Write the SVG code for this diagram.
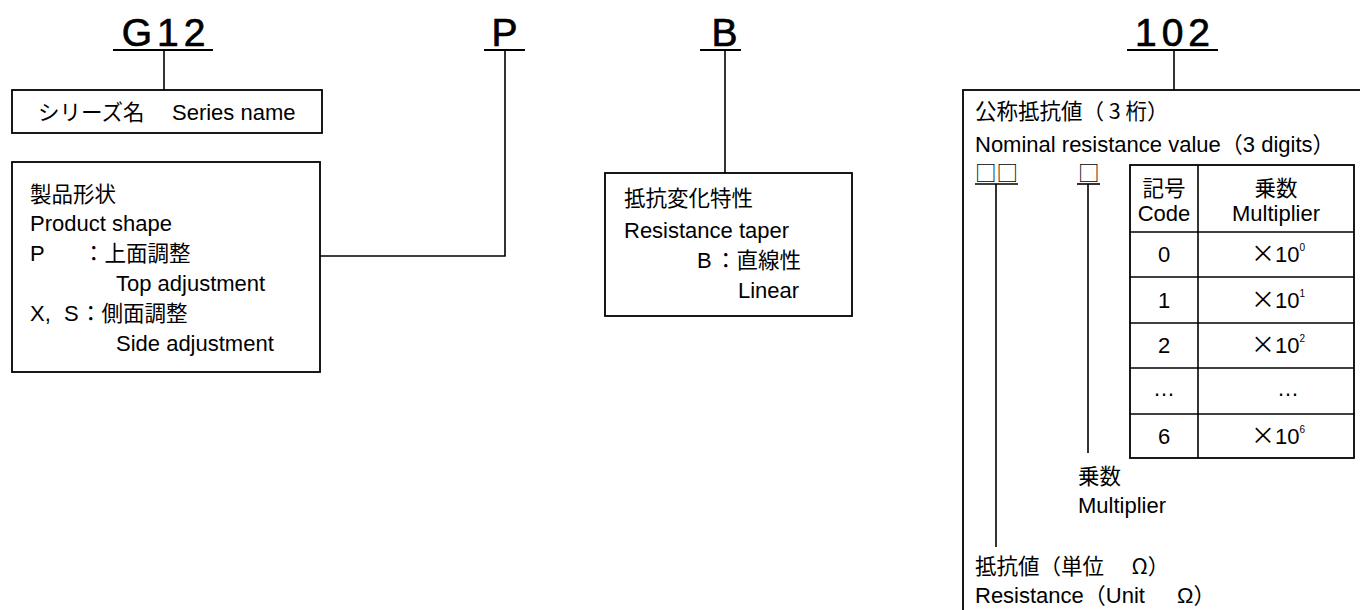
<svg xmlns="http://www.w3.org/2000/svg" width="1360" height="610" viewBox="0 0 1360 610">
<style>
.t{font-family:"Liberation Sans","Noto Sans CJK JP",Arial,sans-serif;font-size:22px;fill:#000}
.j{font-family:"Noto Sans CJK JP","Liberation Sans",sans-serif;font-size:21.5px;fill:#000}
.h{font-family:"Liberation Sans","DejaVu Sans",Arial,sans-serif;font-size:39px;fill:#000;stroke:#000;stroke-width:0.7;letter-spacing:5px}
.box{fill:#fff;stroke:#000;stroke-width:1.8}
.ln{stroke:#000;stroke-width:1.6;fill:none}
.ul{stroke:#000;stroke-width:2.2}
.c{text-anchor:middle}
</style>
<rect width="1360" height="610" fill="#fff"/>

<g id="head-g12">
<text class="h c" x="166" y="46">G12</text>
<line class="ul" x1="113" y1="50" x2="213" y2="50"/>
</g>
<g id="head-p">
<text class="h c" x="507" y="46">P</text>
<line class="ul" x1="484" y1="50" x2="525" y2="50"/>
</g>
<g id="head-b">
<text class="h c" x="727" y="46">B</text>
<line class="ul" x1="700" y1="50" x2="741" y2="50"/>
</g>
<g id="head-102">
<text class="h c" x="1175" y="46">102</text>
<line class="ul" x1="1127" y1="50" x2="1218" y2="50"/>
</g>

<g id="series-box">
<rect class="box" x="12" y="90" width="310" height="43"/>
<text class="j" x="38" y="120">シリーズ名</text>
<text class="t" x="172" y="120">Series name</text>
</g>

<g id="shape-box">
<rect class="box" x="12" y="162" width="308" height="210"/>
<text class="j" x="30" y="202">製品形状</text>
<text class="t" x="30" y="231">Product shape</text>
<text class="t" x="30" y="261">P</text>
<text class="j" x="83" y="261">：上面調整</text>
<text class="t" x="116" y="291">Top adjustment</text>
<text class="t" x="30" y="321">X,</text>
<text class="t" x="64" y="321">S</text>
<text class="j" x="80" y="321">：側面調整</text>
<text class="t" x="116" y="351">Side adjustment</text>
</g>

<g id="taper-box">
<rect class="box" x="605" y="173" width="247" height="143"/>
<text class="j" x="624" y="206">抵抗変化特性</text>
<text class="t" x="624" y="238">Resistance taper</text>
<text class="t" x="697" y="268">B</text>
<text class="j" x="715" y="268">：直線性</text>
<text class="t" x="738" y="298">Linear</text>
</g>

<g id="resistance-box">
<rect class="box" x="963" y="90" width="420" height="540"/>
<text class="j" x="975" y="119">公称抵抗値（ 3 桁）</text>
<text class="t" x="975" y="152">Nominal resistance value<tspan font-family="Noto Sans CJK JP">（</tspan>3 digits<tspan font-family="Noto Sans CJK JP">）</tspan></text>
<text class="j" x="975" y="181" fill="#555">□□</text>
<line class="ln" x1="975" y1="184" x2="1018" y2="184"/>
<text class="j" x="1078" y="181" fill="#555">□</text>
<line class="ln" x1="1077" y1="184" x2="1100" y2="184"/>
<text class="j" x="1078" y="484">乗数</text>
<text class="t" x="1078" y="513">Multiplier</text>
<text class="j" x="975" y="574">抵抗値（単位　<tspan dx="6">Ω</tspan>）</text>
<text class="t" x="975" y="603">Resistance<tspan font-family="Noto Sans CJK JP">（</tspan>Unit <tspan dx="26">Ω</tspan><tspan font-family="Noto Sans CJK JP">）</tspan></text>
</g>

<g id="multiplier-table">
<rect class="box" x="1130" y="165" width="224" height="293"/>
<line class="ln" x1="1198" y1="165" x2="1198" y2="458"/>
<line class="ln" x1="1130" y1="232" x2="1354" y2="232"/>
<line class="ln" x1="1130" y1="277" x2="1354" y2="277"/>
<line class="ln" x1="1130" y1="323" x2="1354" y2="323"/>
<line class="ln" x1="1130" y1="368" x2="1354" y2="368"/>
<line class="ln" x1="1130" y1="414" x2="1354" y2="414"/>
<text class="j c" x="1164" y="196">記号</text>
<text class="t c" x="1164" y="221">Code</text>
<text class="j c" x="1276" y="196">乗数</text>
<text class="t c" x="1276" y="221">Multiplier</text>
<text class="t c" x="1164" y="262">0</text>
<text class="t c" x="1164" y="308">1</text>
<text class="t c" x="1164" y="353">2</text>
<text class="t c" x="1164" y="396">…</text>
<text class="t c" x="1164" y="444">6</text>
<text class="t" x="1251" y="262"><tspan font-family="Noto Sans CJK JP" font-size="24">×</tspan>10<tspan font-size="10" dy="-11">0</tspan></text>
<text class="t" x="1251" y="308"><tspan font-family="Noto Sans CJK JP" font-size="24">×</tspan>10<tspan font-size="10" dy="-11">1</tspan></text>
<text class="t" x="1251" y="353"><tspan font-family="Noto Sans CJK JP" font-size="24">×</tspan>10<tspan font-size="10" dy="-11">2</tspan></text>
<text class="t c" x="1288" y="396">…</text>
<text class="t" x="1251" y="444"><tspan font-family="Noto Sans CJK JP" font-size="24">×</tspan>10<tspan font-size="10" dy="-11">6</tspan></text>
</g>

<g id="connectors">
<line class="ln" x1="164" y1="50" x2="164" y2="90"/>
<polyline class="ln" points="320,256 505,256 505,50"/>
<line class="ln" x1="725" y1="50" x2="725" y2="173"/>
<line class="ln" x1="1174" y1="50" x2="1174" y2="90"/>
<line class="ln" x1="996" y1="184" x2="996" y2="547"/>
<line class="ln" x1="1088" y1="184" x2="1088" y2="453"/>
</g>
</svg>
